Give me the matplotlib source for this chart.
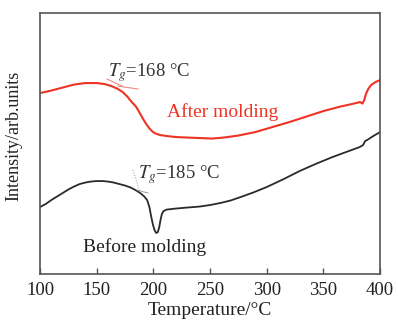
import numpy as np
import matplotlib
matplotlib.use('Agg')
import matplotlib.pyplot as plt

plt.rcParams['font.family'] = ['Liberation Serif', 'DejaVu Serif']
plt.rcParams['mathtext.fontset'] = 'stix'

# DSC curves (temperature in °C, intensity in arb. units)
after_T = [100, 110, 120, 130, 140, 150, 157, 163, 168, 173,
           177, 181, 185, 188, 191, 194, 197, 199.7, 202, 206,
           212, 220, 230, 241, 252, 262, 275, 290, 305, 320,
           335, 350, 365, 375, 382.4, 384.5, 386, 387.5, 389.5, 392,
           396, 400]
after_I = [181, 183.5, 186.5, 189.5, 191, 191, 190, 188, 185.5, 182,
           177.5, 172, 167, 161, 155, 149.5, 145, 142, 140.5, 139,
           138, 137, 136.5, 136, 135.5, 136.5, 138.5, 142, 147, 152,
           157.5, 163, 167.5, 170, 172, 170.5, 174, 180, 185, 189,
           192, 194]

before_T = [100, 105, 110, 115, 120, 125, 130, 135, 140, 145,
            150, 155, 160, 165, 170, 175, 180, 185, 189, 192,
            194.5, 196.5, 198, 199.5, 201, 202.5, 204, 205.2, 206.3, 207.5,
            209, 212, 220, 230, 241, 250, 259, 268, 277, 288,
            300, 315, 329, 344, 358, 370, 382, 385, 386.8, 388.5,
            394, 400]
before_I = [67, 70, 74, 77.5, 81, 84.5, 87.5, 90, 91.5, 92.5,
            93, 93, 92.5, 91.5, 90, 88.5, 86.5, 83.5, 80.5, 77.5,
            74, 67, 58, 50, 44, 41, 42, 47, 54, 60,
            63, 64.5, 65.5, 66.5, 67.5, 69, 71, 73.5, 77, 81.5,
            87, 95, 103, 110.5, 117, 122, 127, 129, 133, 134,
            138, 142]

# tangent construction lines used to find Tg
tan_after_1 = ([159.1, 172.4], [195, 188])
tan_after_2 = ([168.8, 186.5], [188, 185])
tan_before_1 = ([182.0, 188.2], [104, 82])
tan_before_2 = ([185.6, 195.3], [84, 81])

x_ticks = [100, 150, 200, 250, 300, 350, 400]

fig = plt.figure(figsize=(3.98, 3.27), dpi=100)
ax = fig.add_axes([0.1005, 0.162, 0.8545, 0.798])

red = '#ee3324'
ax.plot(after_T, after_I, color=red, lw=1.5)
ax.plot(before_T, before_I, color='#2a2a2a', lw=1.3)

ax.plot(*tan_after_1, color='#f08a80', lw=0.8)
ax.plot(*tan_after_2, color='#f08a80', lw=0.8)
ax.plot(*tan_before_1, color='#999999', lw=0.7, ls=':')
ax.plot(*tan_before_2, color='#999999', lw=0.7)

ax.text(160, 202, r'$T_g$=168 °C', fontsize=13.5, color='#333333', va='center', ha='left')
ax.text(186.5, 99, r'$T_g$=185 °C', fontsize=13.5, color='#333333', va='center', ha='left')
ax.text(212, 162, 'After molding', fontsize=14, color=red, va='center', ha='left')
ax.text(138, 27, 'Before molding', fontsize=14, color='#222222', va='center', ha='left')

ax.set_xlim(100, 400)
ax.set_ylim(0, 261)
ax.set_xticks(x_ticks)
ax.set_yticks([])
ax.tick_params(axis='x', direction='in', length=4, width=1, colors='#555555',
               labelcolor='#222222', labelsize=13.5, pad=6)
for s in ax.spines.values():
    s.set_color('#555555')
    s.set_linewidth(1.2)

ax.set_xlabel('Temperature/°C', fontsize=14, color='#222222', labelpad=2)
ax.set_ylabel('Intensity/arb.units', fontsize=13, color='#222222')
ax.yaxis.set_label_coords(-0.053, 0.53)

fig.savefig('out.png', dpi=100)
